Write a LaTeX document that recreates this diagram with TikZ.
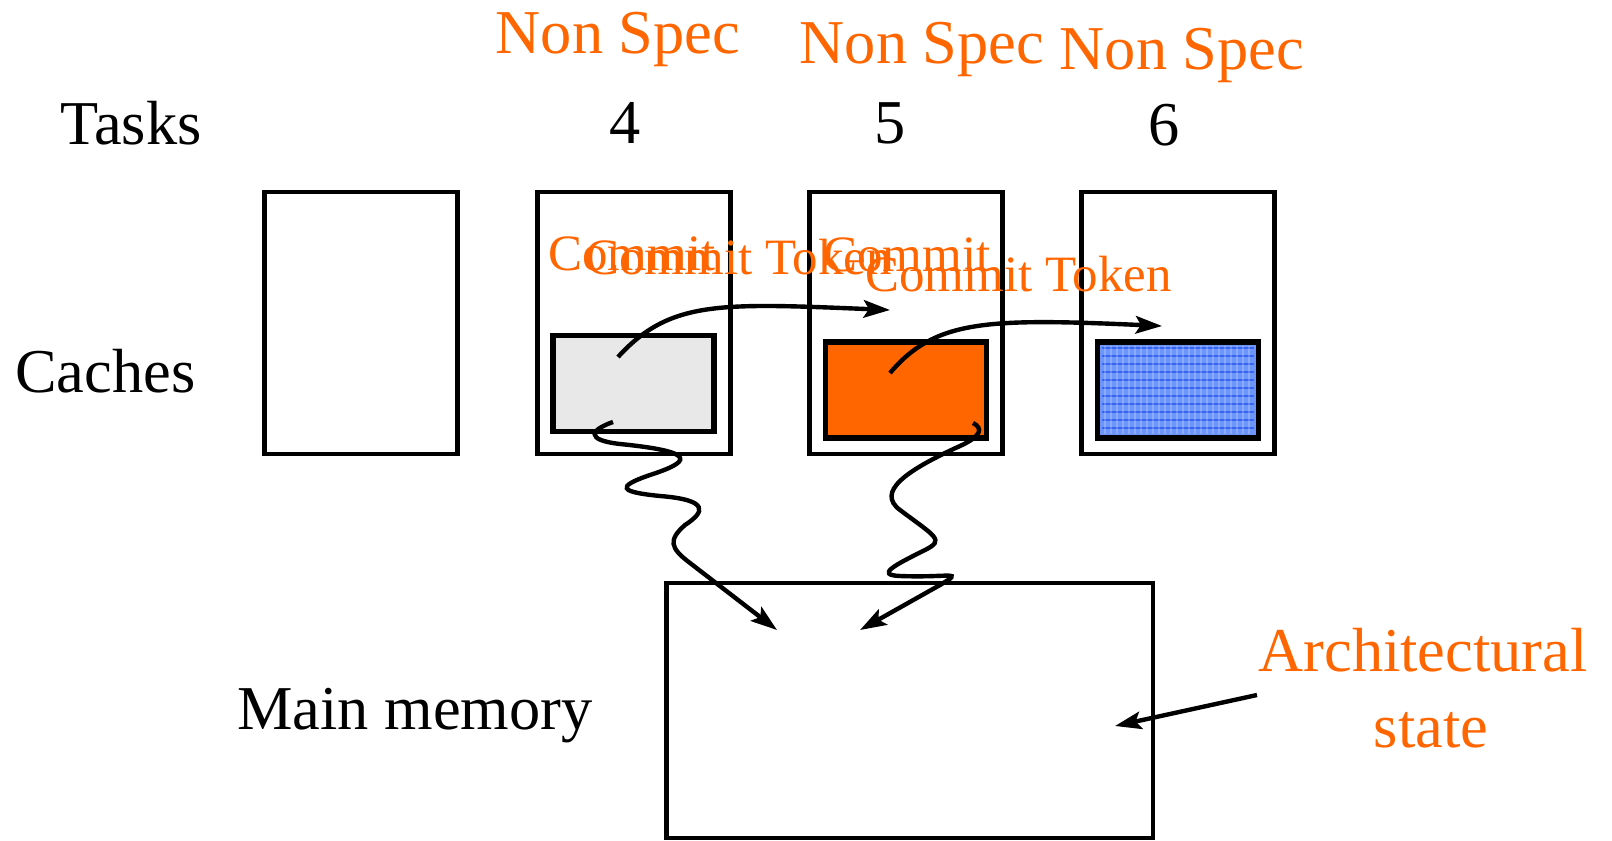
\documentclass[tikz,border=0pt]{standalone}
\usepackage{fontspec}
\setmainfont{Liberation Serif}
\usetikzlibrary{arrows.meta}

\begin{document}
\begin{tikzpicture}[x=0.02cm, y=-0.02cm, >={Stealth[length=15pt, width=10pt, inset=3pt]},
		big/.style={font=\fontsize{35.5}{42}\selectfont, inner sep=0pt},
		tok/.style={font=\fontsize{29}{34}\selectfont, inner sep=0pt, text=specorange},
		taskbox/.style={draw, line width=2.7pt, minimum width=3.86cm, minimum height=5.24cm, inner sep=0pt},
		cachebox/.style={draw, line width=2.9pt, minimum width=3.22cm, minimum height=1.92cm, inner sep=0pt},
		flow/.style={->, line width=2.5pt}]
	\definecolor{specorange}{RGB}{255,102,0}
	\definecolor{cachegray}{RGB}{232,232,232}
	\definecolor{specblue}{RGB}{110,150,250}
	\definecolor{gridblue}{RGB}{55,100,240}
	\useasboundingbox (0,0) rectangle (1612,841);
	% labels on the left
	\node[big, anchor=base west] (tasks) at (60,145) {Tasks};
	\node[big, anchor=base west] (caches) at (15,392) {Caches};
	\node[big, anchor=base west] (mainmem) at (237,729) {Main memory};
	% task numbers
	\node[big, anchor=base] (n4) at (625,144) {4};
	\node[big, anchor=base] (n5) at (890,144) {5};
	\node[big, anchor=base] (n6) at (1164,146) {6};
	\node[big, text=specorange, anchor=base] (ns4) at (618,54) {Non Spec};
	\node[big, text=specorange, anchor=base] (ns5) at (922,64) {Non Spec};
	\node[big, text=specorange, anchor=base] (ns6) at (1182,70) {Non Spec};
	% tasks and their caches
	\node[taskbox] (t3) at (361,323) {};
	\node[taskbox] (t4) at (634,323) {};
	\node[taskbox] (t5) at (906,323) {};
	\node[taskbox] (t6) at (1178,323) {};
	\node[cachebox, fill=cachegray] (c4) at (633.5,383.5) {};
	\node[cachebox, fill=specorange] (c5) at (906,390) {};
	\node[cachebox, fill=specblue] (c6) at (1178,390) {};
	\foreach \y in {348,356,...,432}
		\draw[gridblue, line width=0.8pt] (1102,\y) -- (1254,\y);
	\foreach \x in {1105,1111,...,1252}
		\draw[white, opacity=0.2, line width=0.6pt] (\x,346) -- (\x,434);
	% commit token
	\node[tok, anchor=base west] (ct4a) at (548,271) {Commit};
	\node[tok, anchor=base west] (ct4) at (585,275) {Commit Token};
	\node[tok, anchor=base west] (ct5a) at (823,272) {Commit};
	\node[tok, anchor=base west] (ct5) at (865,291) {Commit Token};
	\coordinate (tok4s) at (618,357);
	\coordinate (tok4e) at (890,310);
	\coordinate (tok5s) at (890,373);
	\coordinate (tok5e) at (1162,326);
	\draw[flow] (tok4s) .. controls (670,300) and (720,303) .. (tok4e);
	\draw[flow] (tok5s) .. controls (935,320) and (985,318) .. (tok5e);
	% main memory
	\node[draw, line width=2.8pt, minimum width=9.74cm, minimum height=5.1cm] (mem) at (909.5,710.5) {};
	\coordinate (wb4) at (613,422);
	\coordinate (wm4) at (777,630);
	\coordinate (wb5) at (973,423);
	\coordinate (wm5) at (860,630);
	\draw[flow] (wb4) .. controls (590,430) and (585,440) .. (620,444)
		.. controls (700,452) and (690,462) .. (650,475)
		.. controls (615,487) and (620,492) .. (660,496)
		.. controls (710,500) and (705,512) .. (685,525)
		.. controls (668,540) and (670,548) .. (690,563) -- (wm4);
	\draw[flow] (wb5) .. controls (983,428) and (982,436) .. (960,446)
		.. controls (905,471) and (876,492) .. (900,510)
		.. controls (936,537) and (945,540) .. (925,550)
		.. controls (895,565) and (875,575) .. (900,576)
		.. controls (950,578) and (965,570) .. (940,585) -- (wm5);
	% architectural state
	\node[big, text=specorange, anchor=base] (arch) at (1423,671) {Architectural};
	\node[big, text=specorange, anchor=base] (state) at (1431,747) {state};
	\coordinate (archtail) at (1257,695);
	\coordinate (archtip) at (1115,726);
	\draw[flow] (archtail) -- (archtip);
\end{tikzpicture}
\end{document}
